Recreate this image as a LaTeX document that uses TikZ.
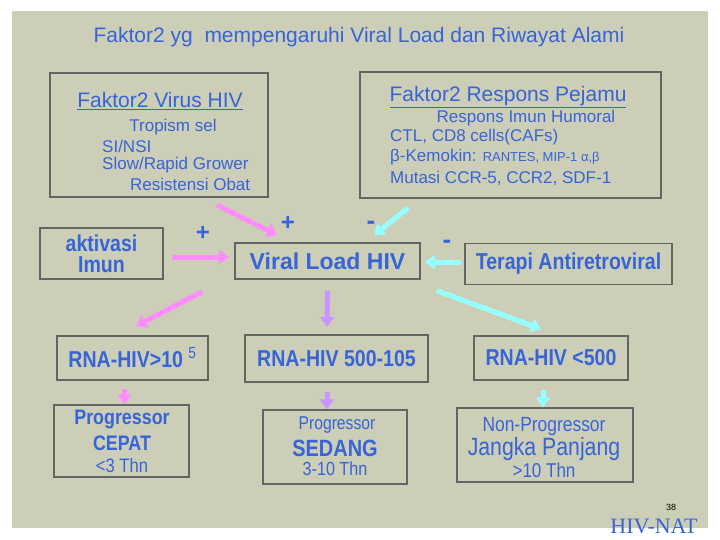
\documentclass[tikz,border=0pt]{standalone}
\usepackage{fontspec}
\setmainfont{Liberation Sans}
\newfontfamily\narrowsans[FakeStretch=0.85]{Liberation Sans}
\newfontfamily\serifnat{Liberation Serif}
\usetikzlibrary{arrows.meta}
\definecolor{panel}{RGB}{204,206,183}
\definecolor{txtblue}{RGB}{55,100,215}
\definecolor{rim}{RGB}{100,100,100}
\definecolor{pinkarr}{RGB}{255,140,255}
\definecolor{purparr}{RGB}{200,150,255}
\definecolor{cyanarr}{RGB}{150,255,255}
\newcommand{\fs}[1]{\fontsize{#1}{#1}\selectfont}
\tikzset{
  box/.style={draw=rim,line width=1.3pt,inner sep=0pt},
  txt/.style={text=txtblue,inner sep=0pt},
  fat/.style={line width=5pt,-{Triangle[length=10pt,width=14pt]}},
}
\begin{document}
\begin{tikzpicture}[x=1pt,y=-1pt]
\useasboundingbox (0,0) rectangle (720,540);
\fill[white] (0,0) rectangle (720,540);
\fill[panel] (12,11) rectangle (708,528);

% title
\node[txt,font=\fs{21}] (title) at (359,37) {Faktor2 yg\ \ mempengaruhi Viral Load dan Riwayat Alami};

% top boxes
\node[box,minimum width=218pt,minimum height=124pt] (virus) at (159,135) {};
\node[txt,font=\fs{21}] (vhead) at (160,101) {\underline{Faktor2 Virus HIV}};
\node[txt,font=\fs{17}] (v1) at (173,127) {Tropism sel};
\node[txt,font=\fs{17},anchor=west] (v2) at (102,146) {SI/NSI};
\node[txt,font=\fs{17},anchor=west] (v3) at (102,165) {Slow/Rapid Grower};
\node[txt,font=\fs{17},anchor=west] (v4) at (130,184) {Resistensi Obat};

\node[box,minimum width=301pt,minimum height=126pt] (resp) at (510.5,135) {};
\node[txt,font=\fs{21}] (rhead) at (508,97) {\underline{Faktor2 Respons Pejamu}};
\node[txt,font=\fs{17}] (r1) at (526,118) {Respons Imun Humoral};
\node[txt,font=\fs{17},anchor=west] (r2) at (390,137) {CTL, CD8 cells(CAFs)};
\node[txt,font=\fs{17},anchor=west] (r3) at (390,157) {β-Kemokin: {\fs{13}RANTES, MIP-1 α,β}};
\node[txt,font=\fs{17},anchor=west] (r4) at (390,178) {Mutasi CCR-5, CCR2, SDF-1};

% middle row
\node[box,minimum width=123pt,minimum height=51pt,txt,align=center,font=\narrowsans\bfseries\fontsize{23}{21}\selectfont] (aktiv) at (101.5,253.5) {aktivasi\\Imun};
\node[box,minimum width=185pt,minimum height=36pt,txt,font=\bfseries\fs{23}] (viral) at (327.5,261) {Viral Load HIV};
\node[box,minimum width=207pt,minimum height=41pt,txt,font=\narrowsans\bfseries\fs{23}] (terapi) at (568.5,264) {Terapi Antiretroviral};

\node[txt,font=\bfseries\fs{24}] (p1) at (203,233) {+};
\node[txt,font=\bfseries\fs{24}] (p2) at (288,223) {+};
\node[txt,font=\bfseries\fs{26}] (m1) at (371,225) {-};
\node[txt,font=\bfseries\fs{26}] (m2) at (447,244) {-};

% RNA boxes
\node[box,minimum width=151pt,minimum height=44pt,txt,font=\narrowsans\bfseries\fs{23}] (rna1) at (132.5,358) {RNA-HIV>10 {\mdseries\textsuperscript{5}}};
\node[box,minimum width=183pt,minimum height=47pt,txt,font=\narrowsans\bfseries\fs{23}] (rna2) at (336.5,358.5) {RNA-HIV 500-105};
\node[box,minimum width=154pt,minimum height=44pt,txt,font=\narrowsans\bfseries\fs{23}] (rna3) at (551,358) {RNA-HIV <500};

% outcome boxes
\node[box,minimum width=135pt,minimum height=72pt] (prog1) at (121.5,441) {};
\node[txt,font=\narrowsans\bfseries\fs{21}] (a1) at (122,419) {Progressor};
\node[txt,font=\narrowsans\bfseries\fs{21}] (a2) at (122,443) {CEPAT};
\node[txt,font=\narrowsans\fs{19.5}] (a3) at (122,466) {<3 Thn};

\node[box,minimum width=144pt,minimum height=74pt] (prog2) at (335,447) {};
\node[txt,font=\narrowsans\fs{18.5}] (b1) at (337,425) {Progressor};
\node[txt,font=\narrowsans\bfseries\fs{23.5}] (b2) at (335,448) {SEDANG};
\node[txt,font=\narrowsans\fs{19}] (b3) at (335,469) {3-10 Thn};

\node[box,minimum width=176pt,minimum height=74pt] (prog3) at (545,445) {};
\node[txt,font=\narrowsans\fs{20.5}] (c1) at (544,427) {Non-Progressor};
\node[txt,font=\narrowsans\fs{25}] (c2) at (544,449) {Jangka Panjang};
\node[txt,font=\narrowsans\fs{20}] (c3) at (544,470) {>10 Thn};

% page footer
\node[font=\fs{9},inner sep=0pt] (pg) at (671,507) {38};
\node[txt,font=\serifnat\fs{22}] (nat) at (654,526) {HIV-NAT};

% arrows
\coordinate (s1) at (217,205); \coordinate (e1) at (277,235);
\coordinate (s2) at (408,208); \coordinate (e2) at (374,235);
\coordinate (s3) at (172,257); \coordinate (e3) at (229,257);
\coordinate (s4) at (461,262); \coordinate (e4) at (425,262);
\draw[fat,pinkarr] (s1) -- (e1);
\draw[fat,cyanarr] (s2) -- (e2);
\draw[fat,pinkarr] (s3) -- (e3);
\draw[fat,cyanarr] (s4) -- (e4);

\draw[fat,pinkarr] (viral.south west) ++(-32,12) coordinate (s5) -- (136,326) coordinate (e5);
\draw[fat,purparr] (viral.south) ++(0,11) coordinate (s6) -- (327,327) coordinate (e6);
\draw[fat,cyanarr] (viral.south east) ++(16,11) coordinate (s7) -- (541,329) coordinate (e7);

\draw[fat,pinkarr] (rna1.south -| prog1.north) ++(3,8) coordinate (s8) -- (prog1.north -| s8);
\draw[fat,purparr] (327,392) coordinate (s9) -- (prog2.north -| s9);
\draw[fat,cyanarr] (543,390) coordinate (s10) -- (prog3.north -| s10);
\end{tikzpicture}
\end{document}
